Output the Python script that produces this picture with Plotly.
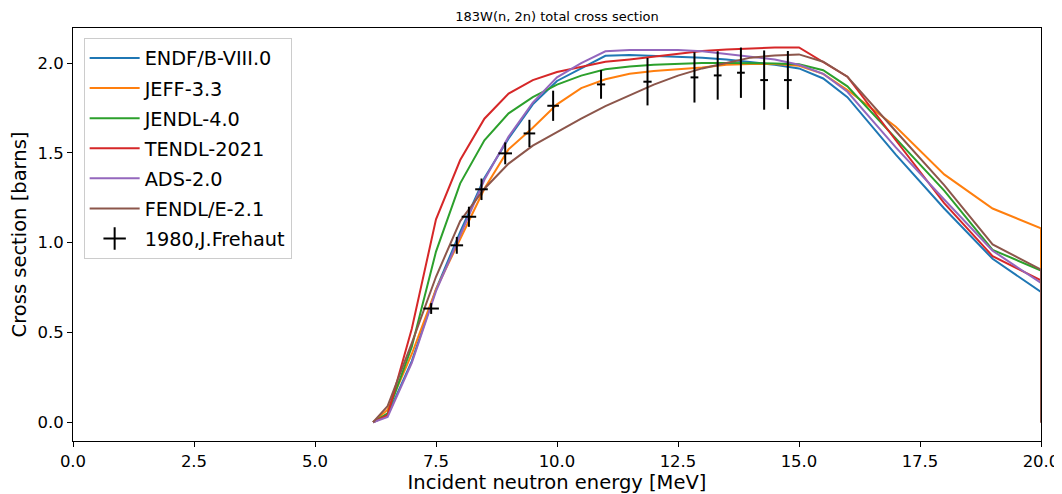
import plotly.graph_objects as go

# Energy grid (MeV)
energy = [6.2, 6.5, 7.0, 7.5, 8.0, 8.5, 9.0, 9.5, 10.0, 10.5, 11.0, 11.5, 12.0, 12.5,
          13.0, 13.5, 14.0, 14.5, 15.0, 15.5, 16.0, 17.0, 18.0, 19.0, 20.0, 20.0]

endf = [0.0, 0.04, 0.34, 0.74, 1.06, 1.36, 1.58, 1.77, 1.90, 1.97, 2.04, 2.045, 2.04, 2.035,
        2.03, 2.02, 2.005, 1.99, 1.97, 1.914, 1.81, 1.49, 1.19, 0.91, 0.725, 0.0]
jeff = [0.0, 0.07, 0.38, 0.74, 1.02, 1.30, 1.52, 1.64, 1.77, 1.86, 1.91, 1.94, 1.955, 1.965,
        1.975, 1.99, 1.995, 1.995, 1.985, 1.94, 1.85, 1.645, 1.38, 1.19, 1.08, 0.0]
jendl = [0.0, 0.05, 0.42, 0.95, 1.33, 1.57, 1.72, 1.81, 1.88, 1.93, 1.965, 1.98, 1.99, 1.995,
         2.0, 2.0, 2.0, 1.998, 1.993, 1.96, 1.87, 1.58, 1.29, 0.96, 0.845, 0.0]
tendl = [0.0, 0.04, 0.52, 1.13, 1.46, 1.69, 1.83, 1.905, 1.95, 1.98, 2.007, 2.02, 2.035, 2.05,
         2.067, 2.075, 2.082, 2.087, 2.087, 2.007, 1.924, 1.57, 1.22, 0.925, 0.79, 0.0]
ads = [0.0, 0.03, 0.33, 0.73, 1.04, 1.35, 1.59, 1.78, 1.92, 2.0, 2.065, 2.072, 2.072, 2.072,
       2.066, 2.05, 2.035, 2.02, 1.99, 1.94, 1.84, 1.53, 1.24, 0.955, 0.775, 0.0]
fendl = [0.0, 0.09, 0.44, 0.81, 1.12, 1.30, 1.44, 1.54, 1.615, 1.69, 1.76, 1.82, 1.88, 1.93,
         1.97, 2.0, 2.03, 2.042, 2.048, 2.007, 1.924, 1.62, 1.32, 0.99, 0.85, 0.0]

lib_names = ["ENDF/B-VIII.0", "JEFF-3.3", "JENDL-4.0", "TENDL-2021", "ADS-2.0", "FENDL/E-2.1"]
lib_values = [endf, jeff, jendl, tendl, ads, fendl]
lib_colors = ["#1f77b4", "#ff7f0e", "#2ca02c", "#d62728", "#9467bd", "#8c564b"]

# Experimental data: 1980, J.Frehaut
exp_e = [7.40, 7.93, 8.18, 8.44, 8.93, 9.43, 9.92, 10.91, 11.87, 12.84, 13.32, 13.80, 14.28, 14.77]
exp_xs = [0.633, 0.985, 1.144, 1.297, 1.497, 1.608, 1.762, 1.881, 1.896, 1.920, 1.931, 1.946, 1.905, 1.905]
exp_dxs = [0.03, 0.047, 0.056, 0.06, 0.061, 0.076, 0.084, 0.08, 0.132, 0.14, 0.135, 0.14, 0.165, 0.162]
exp_de = [0.16, 0.13, 0.15, 0.13, 0.14, 0.12, 0.12, 0.085, 0.085, 0.08, 0.08, 0.08, 0.08, 0.08]

x_ticks = [0.0, 2.5, 5.0, 7.5, 10.0, 12.5, 15.0, 17.5, 20.0]
y_ticks = [0.0, 0.5, 1.0, 1.5, 2.0]

FONT = "DejaVu Sans"

fig = go.Figure()
for i, (name, vals, col) in enumerate(zip(lib_names, lib_values, lib_colors)):
    fig.add_trace(go.Scatter(x=energy, y=vals, mode="lines", name=name,
                             legendgroup=f"g{i}",
                             line=dict(color=col, width=2)))

fig.add_trace(go.Scatter(
    x=exp_e, y=exp_xs, mode="markers", showlegend=False,
    marker=dict(size=1, color="rgba(0,0,0,0)"),
    error_x=dict(type="data", array=exp_de, color="black", thickness=2, width=0),
    error_y=dict(type="data", array=exp_dxs, color="black", thickness=2, width=0),
))
# legend handle for experimental data
fig.add_trace(go.Scatter(
    x=[None], y=[None], mode="markers", name="1980,J.Frehaut", legendgroup="exp",
    marker=dict(symbol="cross-thin-open", size=20, color="black",
                line=dict(color="black", width=2)),
))

# The page body adds an 8px offset, so the figure is 1054x486 placed at (8, 8)
fig.update_layout(
    width=1054, height=486,
    margin=dict(l=65, r=21, t=20, b=53, autoexpand=False),
    paper_bgcolor="white", plot_bgcolor="white",
    font=dict(family=FONT, color="black"),
    title=dict(text="183W(n, 2n) total cross section", x=0.5209, xanchor="center",
               y=0.9835, yanchor="middle", font=dict(size=13, family=FONT)),
    legend=dict(x=0.011, y=0.976, xanchor="left", yanchor="top",
                bgcolor="rgba(255,255,255,0.8)", bordercolor="#cccccc", borderwidth=1,
                tracegroupgap=2, itemwidth=50,
                font=dict(size=19.3, family=FONT)),
    showlegend=True,
)
fig.update_xaxes(range=[0, 20], tickvals=x_ticks, ticktext=[f"{v:.1f}" for v in x_ticks],
                 automargin=False,
                 showgrid=False, zeroline=False, showline=True, linecolor="black", linewidth=1,
                 mirror=True, ticks="outside", ticklen=5, tickcolor="black",
                 tickfont=dict(size=16.5, family=FONT),
                 title=dict(text="Incident neutron energy [MeV]", font=dict(size=19.5, family=FONT)))
fig.update_yaxes(range=[-0.1045, 2.195], tickvals=y_ticks, ticktext=[f"{v:.1f}" for v in y_ticks],
                 automargin=False,
                 showgrid=False, zeroline=False, showline=True, linecolor="black", linewidth=1,
                 mirror=True, ticks="outside", ticklen=5, tickcolor="black",
                 tickfont=dict(size=16.5, family=FONT),
                 title=dict(text="Cross section [barns]", font=dict(size=19.5, family=FONT)))

fig.write_html("out.html")
